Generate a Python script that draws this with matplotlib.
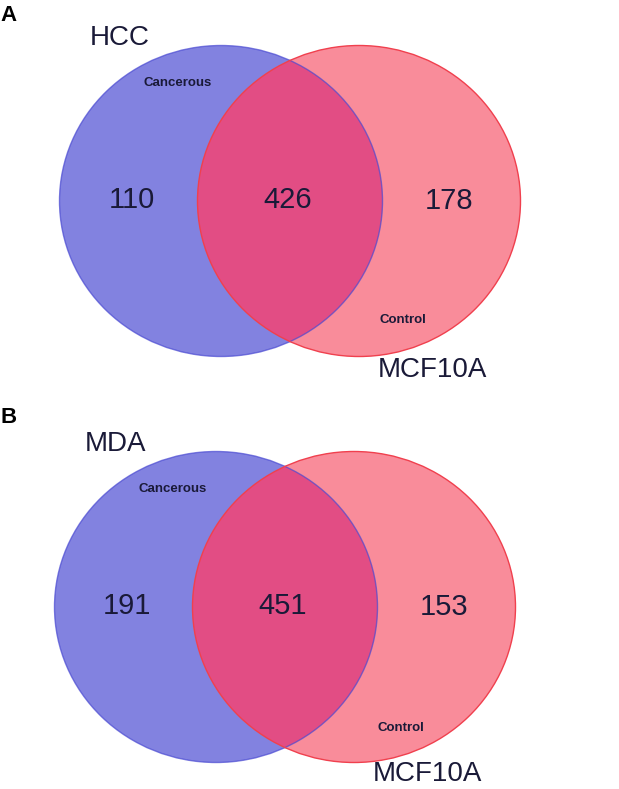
import matplotlib
matplotlib.use("Agg")
import matplotlib.pyplot as plt
from matplotlib.patches import Ellipse

plt.rcParams['font.family'] = ['Liberation Sans', 'DejaVu Sans']

# Venn data for the two panels
panel_tags = ["A", "B"]
left_sets = ["HCC", "MDA"]
right_sets = ["MCF10A", "MCF10A"]
left_only = [110, 191]
shared = [426, 451]
right_only = [178, 153]
left_group = "Cancerous"
right_group = "Control"

blue_fill = "#8282e0"
blue_edge = "#4a4ad2"
red_fill = "#f98c9a"
red_edge = "#f0404e"
mix_fill = "#e24d84"
txt = "#1a1a38"

fig = plt.figure(figsize=(6.19, 7.89), dpi=100)
ax = fig.add_axes([0, 0, 1, 1])
ax.set_xlim(0, 619)
ax.set_ylim(789, 0)
ax.axis('off')

# panel layout (pixels)
layout = [dict(dx=0, cy=201, my=370, tag_y=15),
          dict(dx=-5, cy=607, my=774, tag_y=417)]
w, h = 323, 311

for i in range(2):
    cy = layout[i]['cy']
    dx = layout[i]['dx']
    bx, rx = 221 + dx, 359 + dx
    top = cy - h / 2

    blue = Ellipse((bx, cy), w, h, facecolor=blue_fill, edgecolor='none', zorder=1)
    red = Ellipse((rx, cy), w, h, facecolor=red_fill, edgecolor='none', zorder=2)
    ax.add_patch(blue)
    ax.add_patch(red)
    mix = Ellipse((rx, cy), w, h, facecolor=mix_fill, edgecolor='none', zorder=3)
    ax.add_patch(mix)
    mix.set_clip_path(Ellipse((bx, cy), w, h, transform=ax.transData))
    # outlines
    ax.add_patch(Ellipse((bx, cy), w, h, facecolor='none', edgecolor=blue_edge,
                         lw=1.0, alpha=0.7, zorder=4))
    ax.add_patch(Ellipse((rx, cy), w, h, facecolor='none', edgecolor=red_edge,
                         lw=1.0, zorder=5))

    # panel tag
    ax.text(0, layout[i]['tag_y'], panel_tags[i], fontsize=16, fontweight='bold',
            color='black', ha='left', va='center')

    # set names
    ax.text(bx - 131, top - 7.5, left_sets[i], fontsize=20, color=txt,
            ha='left', va='center')
    ax.text(rx + 73, layout[i]['my'], right_sets[i],
            fontsize=20, color=txt, ha='center', va='center')

    # group labels
    ax.text(bx - 43, top + 37, left_group, fontsize=9.5, fontweight='bold', color=txt,
            ha='center', va='center')
    ax.text(rx + 44 + (0 if i == 0 else 3), cy + 119 + (0 if i == 0 else 2), right_group,
            fontsize=9.5, fontweight='bold', color=txt, ha='center', va='center')

    # counts
    ax.text(bx - 89, cy - 1, str(left_only[i]), fontsize=21, color=txt,
            ha='center', va='center', zorder=6)
    ax.text((bx + rx) / 2 - 2, cy - 1, str(shared[i]), fontsize=21, color=txt,
            ha='center', va='center', zorder=6)
    ax.text(rx + 90, cy, str(right_only[i]), fontsize=21, color=txt,
            ha='center', va='center', zorder=6)

fig.savefig("out.png", dpi=100)
